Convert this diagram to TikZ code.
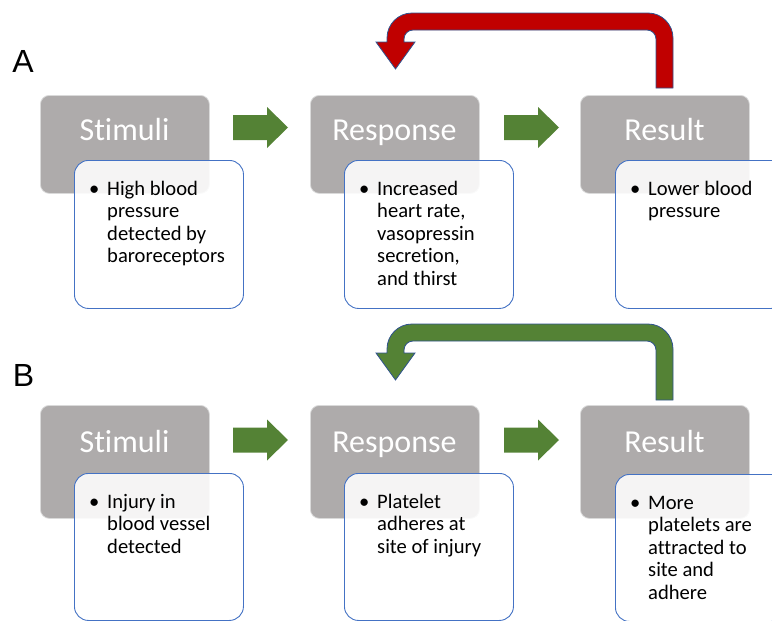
\documentclass[tikz,border=0pt]{standalone}
\usepackage{fontspec}
\setmainfont{Carlito}[Ligatures={NoCommon}]
\newfontfamily\panelfont{Liberation Sans}
\definecolor{grayfill}{HTML}{AEABAB}
\definecolor{grayedge}{HTML}{DADADA}
\definecolor{boxblue}{HTML}{4472C4}
\definecolor{arrowgreen}{HTML}{548235}
\definecolor{arrowred}{HTML}{C00000}
\definecolor{edgeblue}{HTML}{2F528F}
\newcommand\bultext[1]{\parbox[t]{160pt}{\fontsize{20.6}{22.6}\selectfont\hangindent=18pt\hangafter=1\noindent\makebox[18pt][l]{•}#1}}
\newcommand\myuturn[2]{%
  \path[uturn, fill=#1] (673,#2) -- (673,38) .. controls (673,24.25) and (661.75,13) .. (648,13)
    -- (412,13) .. controls (398.25,13) and (387,24.25) .. (387,38) -- (387,42) -- (376,42)
    -- (395.5,69) -- (415,42) -- (404,42) -- (404,39) .. controls (404,34.05) and (408.05,30) .. (413,30)
    -- (647,30) .. controls (651.95,30) and (656,34.05) .. (656,39) -- (656,#2) -- cycle;}
\newcommand\myblock[2]{%
  \path[blockarrow] (#1,#2-12.5) -- (#1+34,#2-12.5) -- (#1+34,#2-20.5) -- (#1+55,#2) -- (#1+34,#2+20.5)
    -- (#1+34,#2+12.5) -- (#1,#2+12.5) -- cycle;}
\begin{document}
\begin{tikzpicture}[x=1pt,y=-1pt,
  graybox/.style={draw=grayedge, line width=0.8pt, fill=grayfill, rounded corners=9pt,
    minimum width=169pt, anchor=north west, inner sep=0pt},
  whitebox/.style={draw=boxblue, line width=0.9pt, fill=white, fill opacity=0.88, rounded corners=14pt,
    minimum width=169pt, anchor=north west, inner sep=0pt},
  title/.style={text=white, font=\fontsize{32}{36}\selectfont, anchor=base, inner sep=0pt},
  bullets/.style={text=black, anchor=base west, inner sep=0pt},
  panel/.style={font=\panelfont\fontsize{32}{36}\selectfont, inner sep=0pt},
  blockarrow/.style={fill=arrowgreen},
  uturn/.style={draw=edgeblue, line width=0.8pt, line join=miter}]
\useasboundingbox (0,0) rectangle (772,621);
\clip (0,0) rectangle (772,621);

% Panel labels
\node[panel] (labA) at (23,61.5) {A};
\node[panel] (labB) at (23.5,375) {B};

% ---------- Panel A ----------
\myuturn{arrowred}{88}
\node[graybox, minimum height=98pt] (gA1) at (40,95) {};
\node[graybox, minimum height=98pt] (gA2) at (310,95) {};
\node[graybox, minimum height=98pt] (gA3) at (580,95) {};
\node[title] (tA1) at (124.5,140) {Stimuli};
\node[title] (tA2) at (394.5,140) {Response};
\node[title] (tA3) at (664.5,140) {Result};
\node[whitebox, minimum height=148pt] (wA1) at (74,160) {};
\node[whitebox, minimum height=148pt] (wA2) at (344,160) {};
\node[whitebox, minimum height=148pt, minimum width=170pt] (wA3) at (615,160) {};
\node[bullets] (bA1) at (89,195) {\bultext{High blood\\pressure\\detected by\\baroreceptors}};
\node[bullets] (bA2) at (359,195) {\bultext{Increased\\heart rate,\\vasopressin\\secretion,\\and thirst}};
\node[bullets] (bA3) at (630,195) {\bultext{Lower blood\\pressure}};
\myblock{233}{127.5}
\myblock{504}{127.5}

% ---------- Panel B ----------
\begin{scope}[shift={(0,311)}]
\myuturn{arrowgreen}{89}
\end{scope}
\node[graybox, minimum height=113pt] (gB1) at (40,405) {};
\node[graybox, minimum height=113pt] (gB2) at (310,405) {};
\node[graybox, minimum height=113pt] (gB3) at (580,405) {};
\node[title] (tB1) at (124.5,452.7) {Stimuli};
\node[title] (tB2) at (394.5,452.7) {Response};
\node[title] (tB3) at (664.5,452.7) {Result};
\node[whitebox, minimum height=147pt] (wB1) at (74,473) {};
\node[whitebox, minimum height=147pt] (wB2) at (344,473) {};
\node[whitebox, minimum height=147pt, minimum width=170pt] (wB3) at (615,474) {};
\node[bullets] (bB1) at (89,508.3) {\bultext{Injury in\\blood vessel\\detected}};
\node[bullets] (bB2) at (359,508.3) {\bultext{Platelet\\adheres at\\site of injury}};
\node[bullets] (bB3) at (630,509) {\bultext{More\\platelets are\\attracted to\\site and\\adhere}};
\myblock{233}{440}
\myblock{504}{440}
\end{tikzpicture}
\end{document}
